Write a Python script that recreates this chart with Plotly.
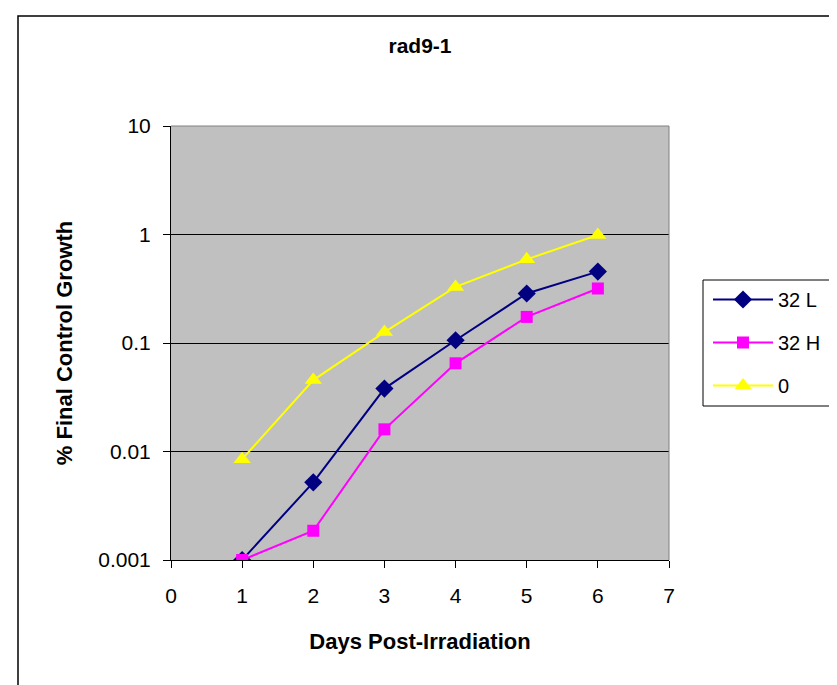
import plotly.graph_objects as go

days = [1, 2, 3, 4, 5, 6]
s32L = [0.001, 0.0052, 0.038, 0.106, 0.286, 0.455]
s32H = [0.001, 0.00186, 0.016, 0.065, 0.174, 0.318]
s0 = [0.0085, 0.0455, 0.126, 0.329, 0.59, 0.99]
x_ticks = [0, 1, 2, 3, 4, 5, 6, 7]
y_ticks = [0.001, 0.01, 0.1, 1, 10]
y_labels = ["0.001", "0.01", "0.1", "1", "10"]

font = "Liberation Sans, Arial, sans-serif"

fig = go.Figure()
fig.add_trace(go.Scatter(x=days, y=s32L, name="32 L", mode="lines+markers",
                         line=dict(color="#000080", width=2),
                         marker=dict(symbol="diamond", size=14, color="#000080"),
                         legendgroup="a"))
fig.add_trace(go.Scatter(x=days, y=s32H, name="32 H", mode="lines+markers",
                         line=dict(color="#FF00FF", width=2),
                         marker=dict(symbol="square", size=12, color="#FF00FF"),
                         legendgroup="b"))
fig.add_trace(go.Scatter(x=days, y=s0, name="0", mode="lines+markers",
                         line=dict(color="#FFFF00", width=2),
                         marker=dict(symbol="triangle-up", size=15, color="#FFFF00"),
                         legendgroup="c"))

fig.update_layout(
    width=837, height=685,
    margin=dict(l=163, r=176, t=118, b=133),
    paper_bgcolor="white",
    plot_bgcolor="#C0C0C0",
    font=dict(family=font, size=21, color="black"),
    title=dict(text="<b>rad9-1</b>", x=0.5, xanchor="center", xref="paper",
               y=1 - 38 / 685, yanchor="middle", font=dict(size=21)),
    legend=dict(x=(708 - 171) / 498, y=(560 - 280) / 434, xanchor="left", yanchor="top",
                borderwidth=0, bgcolor="rgba(0,0,0,0)",
                font=dict(size=20), tracegroupgap=14, itemwidth=60),
    showlegend=True,
)
fig.update_xaxes(range=[0, 7], tickvals=x_ticks, ticks="outside", ticklen=7,
                 tickcolor="black", showline=True, linecolor="black", linewidth=1,
                 showgrid=False, zeroline=False, mirror=False,
                 ticklabelstandoff=10,
                 title=dict(text="<b>Days Post-Irradiation</b>", standoff=27,
                            font=dict(size=22)))
fig.update_yaxes(type="log", range=[-3, 1], tickvals=y_ticks, ticktext=y_labels,
                 ticks="outside", ticklen=7, tickcolor="black",
                 showline=True, linecolor="black", linewidth=1,
                 ticklabelstandoff=8,
                 showgrid=True, gridcolor="black", gridwidth=1, zeroline=False,
                 title=dict(text="<b>% Final Control Growth</b>", standoff=19,
                            font=dict(size=22)))

# gray top/right plot border
fig.add_shape(type="line", xref="paper", yref="paper", x0=0, x1=1, y0=1, y1=1,
              line=dict(color="#808080", width=1))
fig.add_shape(type="line", xref="paper", yref="paper", x0=1, x1=1, y0=0, y1=1,
              line=dict(color="#808080", width=1))
# outer chart frame
fig.add_shape(type="rect", xref="paper", yref="paper",
              x0=(18 - 171) / 498, x1=(850 - 171) / 498,
              y0=(560 - 700) / 434, y1=(560 - 16) / 434,
              line=dict(color="black", width=1.5), fillcolor="rgba(0,0,0,0)")
# legend box
fig.add_shape(type="rect", xref="paper", yref="paper",
              x0=(703 - 171) / 498, x1=(834 - 171) / 498,
              y0=(560 - 406) / 434, y1=(560 - 280) / 434,
              line=dict(color="black", width=1), fillcolor="white")

fig.write_html("out.html")
